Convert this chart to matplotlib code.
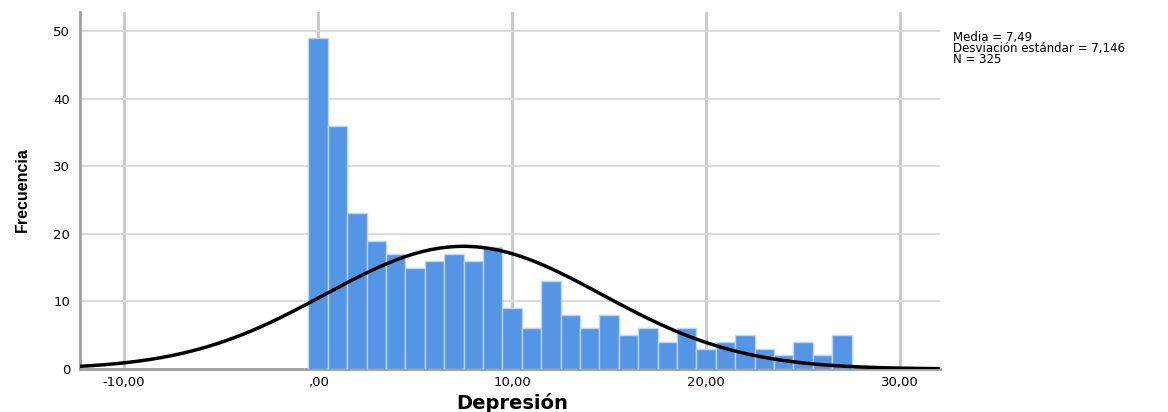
import numpy as np
import matplotlib.pyplot as plt

# Histogram data (bins of width 1 centred on 0..27)
bin_centres = list(range(28))
counts = [49, 36, 23, 19, 17, 15, 16, 17, 16, 18,
          9, 6, 13, 8, 6, 8, 5, 6, 4, 6,
          3, 4, 5, 3, 2, 4, 2, 5]
media = 7.49
desv = 7.146
n_total = 325

x_ticks = [-10, 0, 10, 20, 30]
x_tick_labels = ['-10,00', ',00', '10,00', '20,00', '30,00']
y_ticks = [0, 10, 20, 30, 40, 50]
stats_lines = ['Media = 7,49', 'Desviación estándar = 7,146', 'N = 325']

W, H = 1168, 412
fig = plt.figure(figsize=(W / 100, H / 100), dpi=100)
ax = fig.add_axes([80 / W, 1 - 369 / H, 860 / W, 357 / H])

ax.bar(bin_centres, counts, width=1.0, color='#5595e5', edgecolor='#bcd4f5',
       linewidth=1.0, zorder=3)

# Normal curve scaled to counts
x_out = np.linspace(-12.5, 32.5, 400)
y_out = n_total * 1.0 / (desv * np.sqrt(2 * np.pi)) * np.exp(-0.5 * ((x_out - media) / desv) ** 2)
ax.plot(x_out, y_out, '-k', linewidth=2.5, zorder=4)

ax.set_xlim(-12.27, 32.06)
ax.set_ylim(0, 52.8)
ax.set_xticks(x_ticks)
ax.set_xticklabels(x_tick_labels, family='DejaVu Sans', fontsize=9.5)
ax.set_yticks(y_ticks)
ax.set_yticklabels([str(v) for v in y_ticks], family='DejaVu Sans', fontsize=9.5)
ax.tick_params(axis='y', length=0, pad=7)
ax.tick_params(axis='x', length=0, pad=5)

ax.grid(axis='x', color='#c8c8c8', linewidth=2, zorder=0)
ax.grid(axis='y', color='#d8d8d8', linewidth=1.3, zorder=0)
for s in ['top', 'right']:
    ax.spines[s].set_visible(False)
for s in ['left', 'bottom']:
    ax.spines[s].set_color('#a0a0a0')
    ax.spines[s].set_linewidth(2)

fig.text(512 / W, 3 / H, 'Depresión', family='DejaVu Sans', fontweight='bold',
         fontsize=14, ha='center', va='baseline')
fig.text(22 / W, 1 - 190 / H, 'Frecuencia', family='Liberation Sans',
         fontweight='bold', fontsize=11.5, rotation=90, ha='center', va='center')

fig.text(953 / W, 1 - 31 / H, '\n'.join(stats_lines), family='DejaVu Sans',
         fontsize=8.5, ha='left', va='top', linespacing=0.8)

fig.savefig('out.png', dpi=100)
